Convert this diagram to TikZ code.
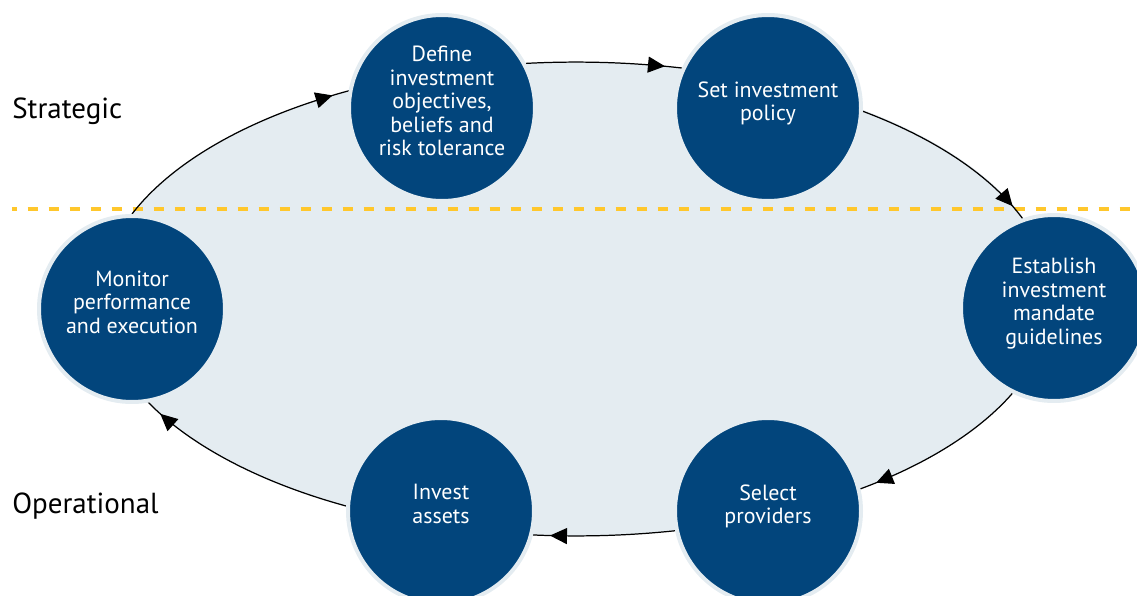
\documentclass[tikz, border = 0pt]{standalone}
\usepackage{fontspec}
\setmainfont{PT Sans}
\usetikzlibrary{arrows.meta, decorations.markings, backgrounds}
\usepackage{xcolor}
\definecolor{StageCol}{HTML}{02457C}
\definecolor{StageRing}{HTML}{E4ECF1}
\definecolor{CycleCol}{HTML}{E4ECF1}
\definecolor{SplitCol}{HTML}{FFC72C}

\tikzset{
	stage/.style = {circle, fill = StageCol, draw = StageRing, line width = 0.8mm, minimum size = 37.2mm, inner sep = 0pt, text = white, align = center, font = \fontsize{12.5}{13.4}\selectfont, text depth = 2.8mm},
	link/.style = {line width = 0.7pt, postaction = {decorate}, decoration = {markings, mark = at position -3.4mm with {\arrow{Triangle[length = 3.4mm, width = 3.2mm]}}}},
	level/.style = {anchor = base west, inner sep = 0pt, font = \fontsize{16.5}{18}\selectfont}
}

\begin{document}
\begin{tikzpicture}[x = 0.2mm, y = 0.2mm]
	\useasboundingbox (0, 0) rectangle (1137, 595);
	\def\rx{476}
	\def\ry{237}
	\coordinate (hub) at (576, 296);

	\node[level] (strategic) at (12, 476) {Strategic};
	\node[level] (operational) at (12, 82) {Operational};

	\node[stage] (monitor) at (132, 286) {Monitor\\performance\\and execution};
	\node[stage] (define) at (442, 487) {Define\\investment\\objectives,\\beliefs and\\risk tolerance};
	\node[stage] (policy) at (768, 487) {Set investment\\policy};
	\node[stage] (mandate) at (1054, 287) {Establish\\investment\\mandate\\guidelines};
	\node[stage] (providers) at (768, 84) {Select\\providers};
	\node[stage] (invest) at (441, 84) {Invest\\assets};

	\begin{pgfonlayer}{background}
		\fill[CycleCol] (hub) ellipse [x radius = \rx, y radius = \ry];
		\draw[SplitCol, line width = 0.9mm, dash pattern = on 2.1mm off 2.1mm, dash phase = 1.1mm] (12, 386) -- (1137, 386);
		\draw[link] (monitor.90) arc [start angle = 159, end angle = 118.55, x radius = \rx, y radius = \ry];
		\draw[link] (define.28) arc [start angle = 96.05, end angle = 77.15, x radius = \rx, y radius = \ry];
		\draw[link] (policy.358.8) arc [start angle = 52.9, end angle = 19.95, x radius = \rx, y radius = \ry];
		\draw[link] (mandate.244.2) arc [start angle = -23.5, end angle = -53.3, x radius = \rx, y radius = \ry];
		\draw[link] (providers.192) arc [start angle = -78, end angle = -95.2, x radius = \rx, y radius = \ry];
		\draw[link] (invest.177.3) arc [start angle = -118.9, end angle = -154.1, x radius = \rx, y radius = \ry];
	\end{pgfonlayer}
\end{tikzpicture}
\end{document}
